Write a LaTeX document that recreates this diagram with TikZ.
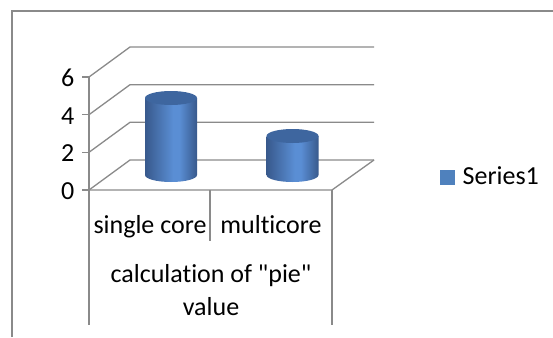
\documentclass[tikz,border=0pt]{standalone}
\usepackage{fontspec}
\setmainfont{Carlito}[Ligatures={TeXOff,CommonOff}]
\definecolor{gridgray}{HTML}{8A8A8A}
\definecolor{barblue}{HTML}{4F81BD}
\definecolor{bardark}{HTML}{38598C}
\definecolor{barlight}{HTML}{5A8ED4}
\definecolor{bartop}{HTML}{3E669F}
\pgfdeclarehorizontalshading{cylshade}{100bp}{color(0bp)=(bardark); color(25bp)=(bardark); color(52bp)=(barlight); color(58bp)=(barlight); color(75bp)=(bardark); color(100bp)=(bardark)}

\begin{document}
\begin{tikzpicture}[x=1pt, y=-1pt, line width=1.3pt,
    gridline/.style={draw=gridgray},
    ticklabel/.style={anchor=east, inner sep=0pt},
    catlabel/.style={anchor=base, inner sep=0pt}]
  \useasboundingbox (0,0) rectangle (553,337);
  \fontsize{26}{30}\selectfont

  % chart frame (right and bottom sides fall outside)
  \coordinate (frameBL) at (12,337);
  \coordinate (frameTL) at (12,11);
  \coordinate (frameTR) at (553,11);
  \draw[gridline] (frameBL) -- (frameTL) -- (frameTR);

  % back wall grid and value axis
  \foreach \val/\yy in {0/190, 2/152.3, 4/114.7, 6/77} {
    \coordinate (front\val) at (89,\yy);
    \coordinate (back\val) at (130,\yy-30);
    \coordinate (end\val) at (374,\yy-30);
    \draw[gridline] (front\val) -- (back\val) -- (end\val);
    \draw[gridline] (82,\yy) -- (front\val);
    \node[ticklabel] (tick\val) at (75,\yy+1) {\val};
  }
  \coordinate (floorR) at (332,190);
  \coordinate (axisB) at (89,325);
  \coordinate (midT) at (210,190);
  \coordinate (midB) at (210,241);
  \coordinate (rightB) at (332,325);
  \draw[gridline] (front6) -- (axisB);
  \draw[gridline] (front0) -- (floorR) -- (end0);
  \draw[gridline] (floorR) -- (rightB);
  \draw[gridline] (midT) -- (midB);

  % cylinders
  \foreach \name/\cx/\ytop in {single/171/98, multi/292.5/136} {
    \shade[shading=cylshade] (\cx-26,\ytop) -- (\cx-26,175)
      arc[start angle=180, end angle=0, x radius=26, y radius=7]
      -- (\cx+26,\ytop) -- cycle;
    \fill[bartop] (\cx,\ytop) ellipse [x radius=26, y radius=7];
  }

  % category labels
  \node[catlabel] (lsingle) at (150,233) {single core};
  \node[catlabel] (lmulti) at (271,233) {multicore};
  \node[catlabel] (ltitle) at (211,282) {calculation of "pie"};
  \node[catlabel] (lvalue) at (211,315) {value};

  % legend
  \node[fill=barblue, minimum size=15pt, inner sep=0pt] (legkey) at (447.5,177.5) {};
  \node[anchor=base west, inner sep=0pt] (legtext) at (462,184) {Series1};
\end{tikzpicture}
\end{document}
